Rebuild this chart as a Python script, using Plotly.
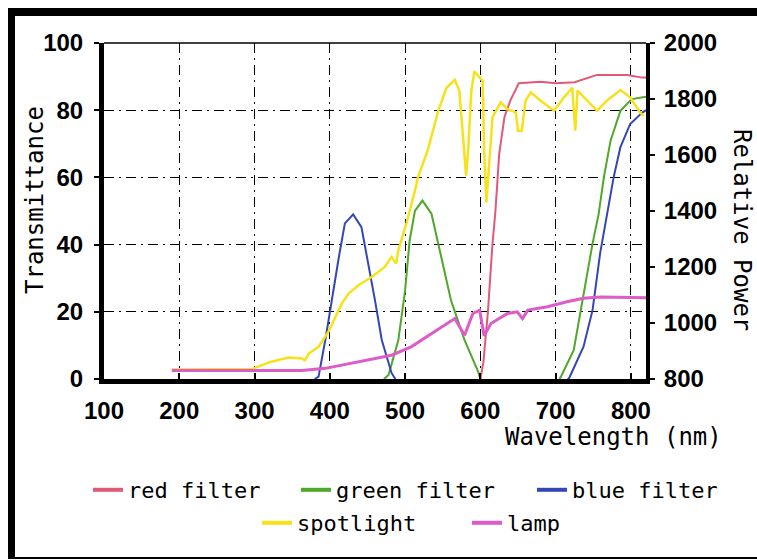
import plotly.graph_objects as go

# ---- data ----
red_wl = [600, 604, 610, 616, 620, 625, 632, 640, 651, 680, 700, 725, 755, 795, 815, 820]
red_t = [0, 5, 20, 40, 50, 67, 78, 83, 88, 88.5, 88, 88.3, 90.5, 90.5, 89.7, 89.7]

green_wl = [472, 478, 491, 500, 506, 513, 523, 535, 548, 561, 579, 597, 600, None,
            705, 707, 724, 737, 749, 757, 764, 773, 786, 801, 815, 820]
green_t = [0, 1.2, 11.6, 26.4, 41.2, 50, 53.1, 49.2, 36.3, 23.4, 11.6, 2.2, 0, None,
           0, 0.7, 8.6, 25.4, 40.3, 49, 60, 71, 79.8, 83.3, 83.8, 84]

blue_wl = [380, 385, 394, 403, 412, 420, 431, 442, 451, 460, 469, 482, 487, None,
           716, 718, 737, 749, 759, 768, 777, 786, 799, 815, 820]
blue_t = [0, 0.7, 11.6, 24.4, 36.3, 46.3, 49, 45.2, 34.4, 23.4, 11.6, 1.8, 0, None,
          0, 0.3, 9.6, 20.5, 37.3, 49, 60, 69, 75.9, 79.3, 80]

spot_wl = [190, 297, 321, 345, 363, 367, 372, 385, 398, 407, 416, 425, 438, 456, 473,
           482, 488, 491, 502, 513, 517, 530, 544, 555, 566, 572, 577, 581, 584, 588,
           592, 597, 603, 605, 608, 612, 616, 627, 636, 647, 650, 655, 660, 667, 680,
           698, 711, 722, 726, 729, 738, 755, 768, 786, 799, 812, 817]
spot_p = [834, 836, 861, 877, 873, 867, 891, 915, 968, 1022, 1070, 1105, 1135, 1165, 1200,
          1236, 1212, 1260, 1358, 1472, 1520, 1616, 1758, 1840, 1868, 1830, 1675, 1526, 1628, 1830,
          1899, 1882, 1864, 1616, 1431, 1580, 1734, 1788, 1764, 1752, 1687, 1687, 1794, 1824, 1794,
          1758, 1806, 1840, 1687, 1830, 1806, 1758, 1794, 1832, 1806, 1752, 1740]

lamp_wl = [190, 363, 394, 416, 438, 482, 508, 535, 548, 566, 579, 590, 599, 605, 614,
           636, 649, 656, 663, 689, 715, 737, 760, 790, 812, 820]
lamp_p = [830, 830, 838, 850, 861, 885, 915, 963, 986, 1016, 956, 1034, 1046, 954, 998,
          1034, 1040, 1016, 1046, 1058, 1076, 1088, 1093, 1092, 1090, 1090]

x_ticks = [100, 200, 300, 400, 500, 600, 700, 800]
y_ticks = [0, 20, 40, 60, 80, 100]
y2_ticks = [800, 1000, 1200, 1400, 1600, 1800, 2000]

names = ["red filter", "green filter", "blue filter", "spotlight", "lamp"]
colors = ["#e05a78", "#4fa82a", "#3446b4", "#f7e21a", "#dd5cc8"]

MONO = "DejaVu Sans Mono"
SANS = "Liberation Sans"

fig = go.Figure()

series = [
    (red_wl, red_t, "y", 2),
    (green_wl, green_t, "y", 2),
    (blue_wl, blue_t, "y", 2),
    (spot_wl, spot_p, "y2", 2.5),
    (lamp_wl, lamp_p, "y2", 3),
]
for (xs, ys, ax, w), name, col in zip(series, names, colors):
    fig.add_trace(go.Scatter(x=xs, y=ys, yaxis=ax, mode="lines", name=name,
                             line=dict(color=col, width=w), showlegend=False,
                             connectgaps=False))

L, T, W, H = 104, 43, 542, 336
def px(v):
    return (v - L) / W
def py(v):
    return (T + H - v) / H

# legend entries (thicker swatches), each placed like the reference
legend_ids = ["legend", "legend2", "legend3", "legend4", "legend5"]
text_start = [128, 336, 572, 297, 507]
row_y = [490, 490, 490, 523, 523]
for name, col, lid in zip(names, colors, legend_ids):
    fig.add_trace(go.Scatter(x=[None], y=[None], mode="lines", name=name,
                             line=dict(color=col, width=4), legend=lid))

legend_common = dict(orientation="h", xanchor="left", yanchor="middle",
                     font=dict(family=MONO, size=22, color="black"),
                     bgcolor="rgba(0,0,0,0)", itemwidth=30, borderwidth=0)
legends = {lid: dict(x=px(ts - 40), y=py(ry), **legend_common)
           for lid, ts, ry in zip(legend_ids, text_start, row_y)}

fig.update_layout(
    width=757, height=560,
    margin=dict(l=L, r=757 - L - W, t=T, b=560 - T - H, autoexpand=False),
    paper_bgcolor="white", plot_bgcolor="white",
    xaxis=dict(range=[100, 820], tickvals=x_ticks, ticks="inside", ticklen=6, tickwidth=2,
               tickcolor="black", showline=True, linewidth=5, linecolor="black",
               showgrid=True, gridcolor="black", gridwidth=1.2, griddash="10px,5px,2px,5px",
               tickfont=dict(family=SANS, size=24, color="black", weight="bold"),
               ticklabelstandoff=6, zeroline=False),
    yaxis=dict(range=[0, 100], tickvals=y_ticks, ticks="outside", ticklen=5, tickwidth=2,
               tickcolor="black", showline=True, linewidth=5, linecolor="black",
               showgrid=True, gridcolor="black", gridwidth=1.2, griddash="10px,5px,2px,5px",
               tickfont=dict(family=SANS, size=24, color="black", weight="bold"),
               ticklabelstandoff=6, zeroline=False),
    yaxis2=dict(range=[800, 2000], tickvals=y2_ticks, overlaying="y", side="right",
                ticks="outside", ticklen=5, tickwidth=2, tickcolor="black",
                showline=True, linewidth=4, linecolor="black", showgrid=False,
                tickfont=dict(family=SANS, size=24, color="black", weight="bold"),
                ticklabelstandoff=4, zeroline=False),
    showlegend=True,
    **legends,
)

title_font = dict(family=MONO, size=24, color="black")
fig.add_annotation(text="Transmittance", x=px(35), y=py(200), xref="paper", yref="paper",
                   textangle=-90, showarrow=False, font=title_font,
                   xanchor="center", yanchor="middle")
fig.add_annotation(text="Relative Power", x=px(742), y=py(230), xref="paper", yref="paper",
                   textangle=90, showarrow=False, font=title_font,
                   xanchor="center", yanchor="middle")
fig.add_annotation(text="Wavelength (nm)", x=px(724), y=py(437), xref="paper", yref="paper",
                   showarrow=False, font=title_font, xanchor="right", yanchor="middle")

# top thin border of the plot area
fig.add_shape(type="line", xref="paper", yref="paper", x0=0, x1=1, y0=1, y1=1,
              line=dict(color="black", width=1.5))
# outer frame of the figure (left, top thick; bottom thin)
fig.add_shape(type="rect", xref="paper", yref="paper", x0=px(8), x1=px(15), y0=py(559), y1=py(8),
              fillcolor="black", line=dict(width=0))
fig.add_shape(type="rect", xref="paper", yref="paper", x0=px(8), x1=px(757), y0=py(16), y1=py(8),
              fillcolor="black", line=dict(width=0))
fig.add_shape(type="rect", xref="paper", yref="paper", x0=px(8), x1=px(757), y0=py(559), y1=py(557),
              fillcolor="black", line=dict(width=0))

fig.write_html("out.html", config={"displayModeBar": False},
               post_script="document.body.style.margin='0px';")
